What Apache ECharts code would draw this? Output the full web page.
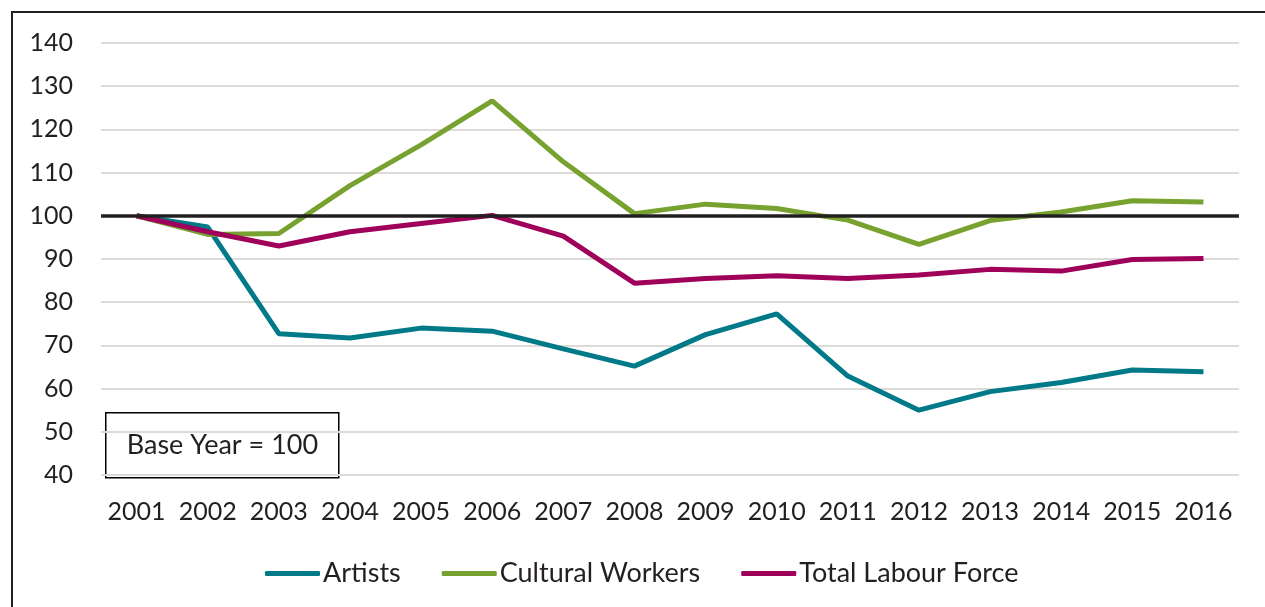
<!DOCTYPE html>
<html>
<head>
<meta charset="utf-8">
<script src="https://cdn.jsdelivr.net/npm/echarts@6/dist/echarts.min.js"></script>
<style>
  html, body { margin: 0; padding: 0; background: #ffffff; }
  #chart { width: 1265px; height: 607px; }
</style>
</head>
<body>
<div id="chart"></div>
<script>
// Employment index, base year 2001 = 100
const years = ['2001','2002','2003','2004','2005','2006','2007','2008','2009','2010','2011','2012','2013','2014','2015','2016'];
const artists = [100, 97.4, 72.7, 71.7, 74.0, 73.3, 69.2, 65.2, 72.5, 77.3, 62.9, 55.0, 59.3, 61.4, 64.3, 63.9];
const culturalWorkers = [100, 95.7, 95.9, 107.0, 116.4, 126.6, 112.5, 100.5, 102.7, 101.7, 99.0, 93.4, 98.9, 100.9, 103.5, 103.2];
const totalLabourForce = [100, 96.3, 93.0, 96.3, 98.2, 100.1, 95.3, 84.4, 85.5, 86.1, 85.5, 86.3, 87.6, 87.2, 89.9, 90.1];
const baseValue = 100;

const FONT = 'Lato';
const TEXT = '#231F20';

const chart = echarts.init(document.getElementById('chart'), null, { renderer: 'canvas' });

chart.setOption({
  animation: false,
  backgroundColor: '#ffffff',
  grid: { left: 101, right: 26, top: 43, bottom: 132, containLabel: false },
  xAxis: {
    type: 'category',
    data: years,
    boundaryGap: true,
    axisLine: { show: false },
    axisTick: { show: false },
    axisLabel: { color: TEXT, fontFamily: FONT, fontSize: 25, margin: 24, interval: 0 }
  },
  yAxis: {
    type: 'value',
    min: 40,
    max: 140,
    interval: 10,
    axisLine: { show: false },
    axisTick: { show: false },
    axisLabel: { color: TEXT, fontFamily: FONT, fontSize: 25, margin: 28 },
    splitLine: { lineStyle: { color: '#dedad7', width: 2 } }
  },
  legend: {
    data: ['Artists', 'Cultural Workers', 'Total Labour Force'],
    left: 260,
    top: 555,
    icon: 'roundRect',
    itemWidth: 55,
    itemHeight: 5,
    itemGap: 41,
    textStyle: { color: TEXT, fontFamily: FONT, fontSize: 27, padding: [0, 0, 0, -2] }
  },
  series: [
    {
      name: 'Artists', type: 'line', data: artists,
      symbol: 'none', color: '#007A88',
      lineStyle: { width: 5, color: '#007A88' }
    },
    {
      name: 'Cultural Workers', type: 'line', data: culturalWorkers,
      symbol: 'none', color: '#78A22F',
      lineStyle: { width: 5, color: '#78A22F' }
    },
    {
      name: 'Total Labour Force', type: 'line', data: totalLabourForce,
      symbol: 'none', color: '#9E005A',
      lineStyle: { width: 5, color: '#9E005A' },
      markLine: {
        silent: true,
        symbol: ['none', 'none'],
        label: { show: false },
        lineStyle: { color: '#231F20', width: 3.5, type: 'solid' },
        data: [{ yAxis: baseValue }]
      }
    }
  ],
  graphic: [
    {
      type: 'rect',
      silent: true,
      shape: { x: 12, y: 12, width: 1300, height: 700 },
      style: { fill: 'none', stroke: '#231F20', lineWidth: 2 },
      z: 100
    },
    {
      type: 'group',
      left: 105,
      top: 412,
      z: 100,
      children: [
        {
          type: 'rect',
          shape: { x: 0, y: 0, width: 233, height: 65 },
          style: { fill: '#ffffff', stroke: '#000000', lineWidth: 1.5 }
        },
        {
          type: 'text',
          x: 21,
          y: 32.5,
          style: {
            text: 'Base Year = 100',
            fill: TEXT,
            font: '27px Lato',
            verticalAlign: 'middle',
            align: 'left'
          }
        }
      ]
    }
  ]
});
</script>
</body>
</html>
